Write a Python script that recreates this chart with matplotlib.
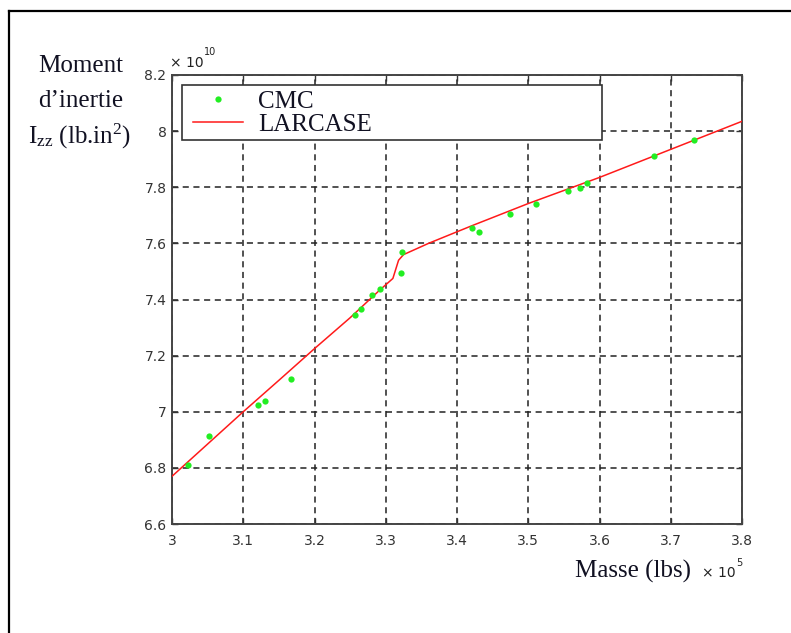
import matplotlib
matplotlib.use("Agg")
import matplotlib.pyplot as plt
from matplotlib.lines import Line2D
from matplotlib.patches import Rectangle

# Données (masse x 1e5 lbs, moment x 1e10 lb.in^2)
cmc_masse = [3.023, 3.052, 3.121, 3.131, 3.167, 3.257, 3.265, 3.280, 3.292,
             3.322, 3.323, 3.421, 3.431, 3.474, 3.511, 3.556, 3.572, 3.583,
             3.677, 3.732]
cmc_moment = [6.809, 6.912, 7.025, 7.039, 7.116, 7.345, 7.365, 7.416, 7.437,
              7.494, 7.570, 7.656, 7.640, 7.705, 7.740, 7.788, 7.798, 7.814,
              7.911, 7.968]

larcase_masse = [3.0, 3.05, 3.1, 3.15, 3.2, 3.25, 3.29, 3.31, 3.318, 3.325,
                 3.36, 3.42, 3.5, 3.6, 3.7, 3.8]
larcase_moment = [6.77, 6.885, 7.0, 7.112, 7.225, 7.335, 7.43, 7.475, 7.54,
                  7.56, 7.60, 7.662, 7.742, 7.835, 7.935, 8.035]

xticks = [3.0, 3.1, 3.2, 3.3, 3.4, 3.5, 3.6, 3.7, 3.8]
xlabels = ['3', '3.1', '3.2', '3.3', '3.4', '3.5', '3.6', '3.7', '3.8']
yticks = [6.6, 6.8, 7.0, 7.2, 7.4, 7.6, 7.8, 8.0, 8.2]
ylabels = ['6.6', '6.8', '7', '7.2', '7.4', '7.6', '7.8', '8', '8.2']

plt.rcParams['mathtext.fontset'] = 'custom'
plt.rcParams['mathtext.rm'] = 'Liberation Serif'
plt.rcParams['mathtext.it'] = 'Liberation Serif:italic'

W, H = 791, 633
fig = plt.figure(figsize=(W / 100, H / 100), dpi=100)
fig.patch.set_facecolor('white')

# position des axes (en pixels)
x0, x1, y0, y1 = 172, 742, 75, 524
ax = fig.add_axes([x0 / W, 1 - y1 / H, (x1 - x0) / W, (y1 - y0) / H])

ax.plot(larcase_masse, larcase_moment, color='#ff1a1a', lw=1.1, label='LARCASE', zorder=3)
ax.plot(cmc_masse, cmc_moment, 'o', color='#22ee22', ms=4.5, mec='none', label='CMC', zorder=4)

ax.set_xlim(3.0, 3.8)
ax.set_ylim(6.6, 8.2)
ax.set_xticks(xticks)
ax.set_xticklabels(xlabels)
ax.set_yticks(yticks)
ax.set_yticklabels(ylabels)
ax.tick_params(direction='in', top=True, right=True, length=4, width=1,
               color='#333333', labelsize=10, labelcolor='#333333')
ax.tick_params(axis='x', pad=7)
ax.tick_params(axis='y', pad=4)
for lab in ax.get_xticklabels() + ax.get_yticklabels():
    lab.set_family('DejaVu Sans')
for sp in ax.spines.values():
    sp.set_color('#444444')
    sp.set_linewidth(1.4)
ax.grid(True, color='#222222', linestyle=(0, (4, 3)), linewidth=1.1)

# cadre de la légende (dessiné à part pour garder la marge à gauche)
ax.add_patch(Rectangle((0.0167, 0.855), 0.737, 0.1225, transform=ax.transAxes,
                       facecolor='white', edgecolor='#333333', lw=1.2, zorder=5))

# légende
handles = [Line2D([], [], marker='o', color='#22ee22', ls='none', ms=4.5, mec='none'),
           Line2D([], [], color='#ff1a1a', lw=1.1)]
leg = ax.legend(handles, ['CMC', 'LARCASE'], loc='upper left',
                bbox_to_anchor=(0.0368, 0.965),
                prop={'family': 'Liberation Serif', 'size': 18},
                frameon=False, borderaxespad=0, borderpad=0,
                handlelength=2.0, handletextpad=0.6, labelspacing=0.0)
leg.set_zorder(6)
for t in leg.get_texts():
    t.set_color('#111122')

serif = {'family': 'Liberation Serif', 'size': 18, 'color': '#111122'}
sans = {'family': 'DejaVu Sans', 'color': '#222222'}

def fx(px):
    return px / W

def fy(py):
    return 1 - py / H

# étiquette de l'axe y
fig.text(fx(81), fy(66), 'Moment', ha='center', va='center', **serif)
fig.text(fx(81), fy(101), 'd\u2019inertie', ha='center', va='center', **serif)
fig.text(fx(80), fy(136), r'I$_{\mathrm{zz}}$ (lb.in$^{2}$)', ha='center', va='center', **serif)

# étiquette de l'axe x
fig.text(fx(633), fy(571), 'Masse (lbs)', ha='center', va='center', **serif)
fig.text(fx(702), fy(573), '\u00d7 10', ha='left', va='center', fontsize=10, **sans)
fig.text(fx(736), fy(563), '5', ha='left', va='center', fontsize=7, **sans)

# facteur d'échelle en y
fig.text(fx(170), fy(63), '\u00d7 10', ha='left', va='center', fontsize=10, **sans)
fig.text(fx(204), fy(52), '10', ha='left', va='center', fontsize=7, **sans)

# cadre autour de la figure
fig.add_artist(Line2D([8.5 / W, 8.5 / W], [0, fy(11)], color='black', lw=1.6))
fig.add_artist(Line2D([8.5 / W, 1], [fy(11), fy(11)], color='black', lw=1.6))

plt.savefig('out.png', dpi=100)
